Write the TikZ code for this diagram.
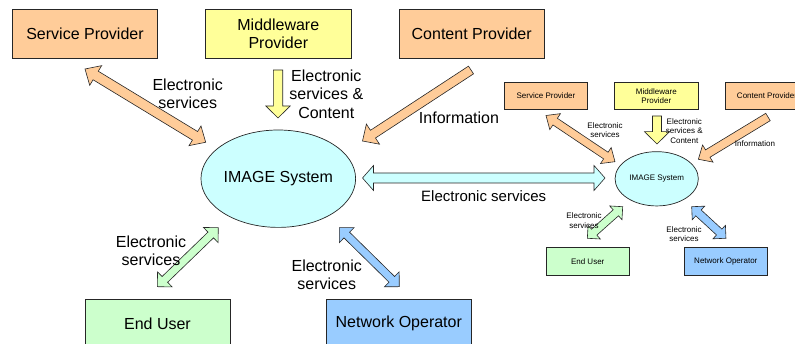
\documentclass[tikz,border=0pt]{standalone}
\usepackage{fontspec}
\setmainfont{Liberation Sans}
\usetikzlibrary{shapes.geometric}
\definecolor{peach}{HTML}{FFCC99}
\definecolor{lyellow}{HTML}{FFFF99}
\definecolor{lcyan}{HTML}{CCFFFF}
\definecolor{lgreen}{HTML}{CCFFCC}
\definecolor{lblue}{HTML}{99CCFF}
\tikzset{
  box/.style={draw=black!85, line width=0.7pt, inner sep=0pt},
  bigtext/.style={font=\fontsize{16}{18.5}\selectfont, align=center, inner sep=0pt},
  midtext/.style={font=\fontsize{15}{18}\selectfont, align=center, inner sep=0pt},
  smalltext/.style={font=\fontsize{8}{9.5}\selectfont, align=center, inner sep=0pt},
  arr/.style={draw=black!85, line width=0.6pt, line join=miter},
}
% double block arrow: #1 from, #2 to, #3 fill, #4 shaft half width, #5 head half width, #6 head length
\newcommand\dblockarrow[6]{%
  \pgfpointanchor{#1}{center}\pgfgetlastxy{\BAx}{\BAy}%
  \pgfpointanchor{#2}{center}\pgfgetlastxy{\BBx}{\BBy}%
  \pgfmathsetmacro\BAng{atan2((\BBy)-(\BAy),(\BBx)-(\BAx))}%
  \pgfmathsetmacro\BLen{veclen((\BBx)-(\BAx),(\BBy)-(\BAy))}%
  \draw[arr,fill=#3,shift={(\BAx,\BAy)},rotate=\BAng]
    (0pt,0pt) -- (#6pt,#5pt) -- (#6pt,#4pt) -- (\BLen pt-#6pt,#4pt) -- (\BLen pt-#6pt,#5pt)
    -- (\BLen pt,0pt) -- (\BLen pt-#6pt,-#5pt) -- (\BLen pt-#6pt,-#4pt) -- (#6pt,-#4pt)
    -- (#6pt,-#5pt) -- cycle;%
}
% single block arrow: tail at #1, head at #2
\newcommand\sblockarrow[6]{%
  \pgfpointanchor{#1}{center}\pgfgetlastxy{\BAx}{\BAy}%
  \pgfpointanchor{#2}{center}\pgfgetlastxy{\BBx}{\BBy}%
  \pgfmathsetmacro\BAng{atan2((\BBy)-(\BAy),(\BBx)-(\BAx))}%
  \pgfmathsetmacro\BLen{veclen((\BBx)-(\BAx),(\BBy)-(\BAy))}%
  \draw[arr,fill=#3,shift={(\BAx,\BAy)},rotate=\BAng]
    (0pt,#4pt) -- (\BLen pt-#6pt,#4pt) -- (\BLen pt-#6pt,#5pt)
    -- (\BLen pt,0pt) -- (\BLen pt-#6pt,-#5pt) -- (\BLen pt-#6pt,-#4pt) -- (0pt,-#4pt) -- cycle;%
}
\begin{document}
\begin{tikzpicture}[x=1pt,y=-1pt]
\useasboundingbox (0,0) rectangle (795,344);
\clip (0,0) rectangle (795,344);

% ---------- left (large) diagram ----------
\node[box, fill=peach, minimum width=145.4pt, minimum height=48.7pt, bigtext] (sp) at (85,33.7) {Service Provider};
\node[box, fill=lyellow, minimum width=145.3pt, minimum height=48.7pt, bigtext] (mw) at (278.3,33.7) {Middleware\\Provider};
\node[box, fill=peach, minimum width=145.3pt, minimum height=48.7pt, bigtext] (cp) at (471.7,33.7) {Content Provider};
\node[box, ellipse, fill=lcyan, minimum width=145.4pt, minimum height=97.4pt, bigtext] (img) at (278.3,178.7) {IMAGE System};
\node[box, fill=lgreen, minimum width=145pt, minimum height=48.7pt, bigtext] (eu) at (157.5,323.7) {End User};
\node[box, fill=lblue, minimum width=145.7pt, minimum height=48.7pt, bigtext] (no) at (398.8,323.7) {Network Operator};

\coordinate (spA) at (85,69);     \coordinate (spB) at (205.7,142.3);
\coordinate (mwA) at (278,70);    \coordinate (mwB) at (278,118);
\coordinate (cpA) at (471,70);    \coordinate (cpB) at (362.5,141);
\coordinate (hzA) at (362.5,178); \coordinate (hzB) at (605,178);
\coordinate (euA) at (218.3,227.7); \coordinate (euB) at (157.3,286.7);
\coordinate (noA) at (339.3,227.7); \coordinate (noB) at (399.3,286.7);

\dblockarrow{spA}{spB}{peach}{5}{11.5}{12.5}
\sblockarrow{mwA}{mwB}{lyellow}{4.7}{12.2}{12}
\sblockarrow{cpA}{cpB}{peach}{4.6}{12}{12.5}
\dblockarrow{hzA}{hzB}{lcyan}{5}{12.5}{11}
\dblockarrow{euA}{euB}{lgreen}{4}{10.5}{10.5}
\dblockarrow{noA}{noB}{lblue}{4}{10.5}{10.5}

\node[bigtext] (lsp) at (187.7,94) {Electronic\\services};
\node[bigtext] (lmw) at (326.3,94) {Electronic\\services \&\\Content};
\node[bigtext] (lcp) at (459,118) {Information};
\node[midtext] (lhz) at (483.7,196.5) {Electronic services};
\node[bigtext] (leu) at (151,251) {Electronic\\services};
\node[bigtext] (lno) at (326.7,275) {Electronic\\services};

% ---------- right (small) diagram ----------
\node[box, fill=peach, minimum width=83.4pt, minimum height=27.4pt, smalltext] (rsp) at (546,96) {Service Provider};
\node[box, fill=lyellow, minimum width=84pt, minimum height=27.4pt, smalltext] (rmw) at (656.3,96) {Middleware\\Provider};
\node[box, fill=peach, minimum width=83.4pt, minimum height=27.4pt, smalltext] (rcp) at (767,96) {Content Provider};
\node[box, ellipse, fill=lcyan, minimum width=83.3pt, minimum height=54.3pt, smalltext] (rimg) at (656.7,178.8) {IMAGE System};
\node[box, fill=lgreen, minimum width=83.3pt, minimum height=27.7pt, smalltext] (reu) at (587.7,261.2) {End User};
\node[box, fill=lblue, minimum width=83pt, minimum height=27.7pt, smalltext] (rno) at (725.8,261.2) {Network Operator};

\coordinate (rspA) at (546,115.5);   \coordinate (rspB) at (615,161.7);
\coordinate (rmwA) at (657,116);     \coordinate (rmwB) at (657,144);
\coordinate (rcpA) at (768,117);     \coordinate (rcpB) at (698.3,159.3);
\coordinate (reuA) at (622.7,206.7); \coordinate (reuB) at (587.3,238.3);
\coordinate (rnoA) at (691.7,206.7); \coordinate (rnoB) at (726,238.3);

\dblockarrow{rspA}{rspB}{peach}{4}{9.6}{11}
\sblockarrow{rmwA}{rmwB}{lyellow}{4.5}{12.5}{12.3}
\sblockarrow{rcpA}{rcpB}{peach}{4.3}{10}{11}
\dblockarrow{reuA}{reuB}{lgreen}{4}{9.2}{9.2}
\dblockarrow{rnoA}{rnoB}{lblue}{4}{9.2}{9.2}

\node[smalltext] (rlsp) at (605,130) {Electronic\\services};
\node[smalltext] (rlmw) at (684.3,130.7) {Electronic\\services \&\\Content};
\node[smalltext] (rlcp) at (755,144) {Information};
\node[smalltext] (rleu) at (584,220.5) {Electronic\\services};
\node[smalltext] (rlno) at (684,234) {Electronic\\services};
\end{tikzpicture}
\end{document}
